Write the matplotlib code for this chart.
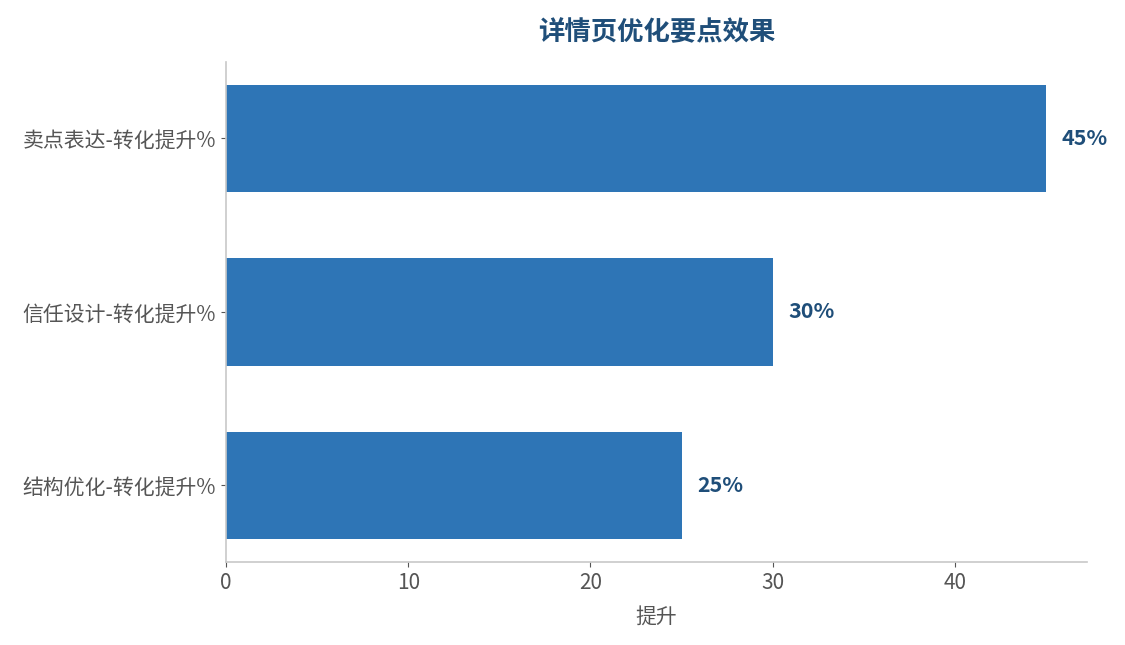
import matplotlib
matplotlib.use("Agg")
import matplotlib.pyplot as plt

plt.rcParams['font.family'] = ['Noto Sans CJK SC', 'DejaVu Sans']

categories = ["结构优化-转化提升%", "信任设计-转化提升%", "卖点表达-转化提升%"]
values = [25, 30, 45]
title = "详情页优化要点效果"
xlabel = "提升"

fig = plt.figure(figsize=(11.25, 6.45), dpi=100)
ax = fig.add_axes([0.2009, 0.1287, 0.7653, 0.7752])

bars = ax.barh(categories, values, height=0.62, color="#2E75B6")
ax.set_xlim(0, max(values) * 1.05)

for b, v in zip(bars, values):
    ax.text(v + 0.85, b.get_y() + b.get_height() / 2, f"{v}%", va="center", ha="left",
            fontsize=15.5, fontweight="bold", color="#1F4E79")

ax.set_title(title, fontsize=19, fontweight="bold", color="#1F4E79", pad=16)
ax.set_xlabel(xlabel, fontsize=15, color="#555555", labelpad=8)
ax.set_xticks([0, 10, 20, 30, 40])

for s in ["top", "right"]:
    ax.spines[s].set_visible(False)
for s in ["left", "bottom"]:
    ax.spines[s].set_color("#c8c8c8")
    ax.spines[s].set_linewidth(1.2)
ax.tick_params(axis="both", colors="#555555", labelsize=15)
ax.tick_params(axis="both", color="#555555")
ax.tick_params(axis="x", pad=4)

fig.savefig("out.png", dpi=100)
